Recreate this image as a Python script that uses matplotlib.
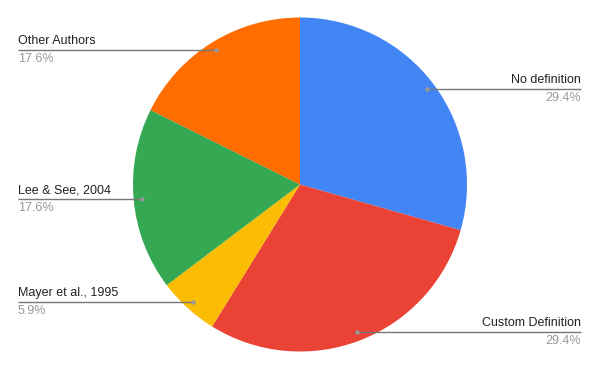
import numpy as np
import matplotlib
matplotlib.use("Agg")
import matplotlib.pyplot as plt

labels = ["No definition", "Custom Definition", "Mayer et al., 1995", "Lee & See, 2004", "Other Authors"]
values = [5, 5, 1, 3, 3]
colors = ["#4285F4", "#EA4335", "#FBBC04", "#34A853", "#FF6D01"]

W, H = 600, 371
cx, cy, r = 300, 184.5, 167

fig = plt.figure(figsize=(W / 100, H / 100), dpi=100)
ax = fig.add_axes([0, 0, 1, 1])
ax.set_xlim(0, W)
ax.set_ylim(H, 0)
ax.set_aspect("equal")
ax.axis("off")

# pie drawn clockwise from top (y axis inverted, so counterclock=True appears clockwise)
wedges, _ = ax.pie(values, colors=colors, startangle=-90, counterclock=True,
                   center=(cx, cy), radius=r, frame=True,
                   wedgeprops=dict(linewidth=0))
ax.set_xlim(0, W)
ax.set_ylim(H, 0)
ax.axis("off")

total = sum(values)
cum = 0
for lab, v in zip(labels, values):
    mid = (cum + v / 2) / total * 2 * np.pi
    cum += v
    dx = np.sin(mid) * r * 0.95
    dy = -np.cos(mid) * r * 0.95
    px, py = cx + dx, cy + dy
    pct = f"{v / total * 100:.1f}%"
    if dx >= 0:
        x_end, ha = 581, "right"
    else:
        x_end, ha = 18, "left"
    ax.plot([px, x_end], [py, py], color="#777777", lw=1, solid_capstyle="butt")
    ax.plot([px], [py], "o", color="#999999", ms=3.2, mec="none")
    ax.text(x_end, py - 3, lab, ha=ha, va="bottom", fontsize=9,
            family="Liberation Sans", color="#222222")
    ax.text(x_end, py + 3, pct, ha=ha, va="top", fontsize=9,
            family="Liberation Sans", color="#999999")

fig.savefig("out.png", dpi=100)
